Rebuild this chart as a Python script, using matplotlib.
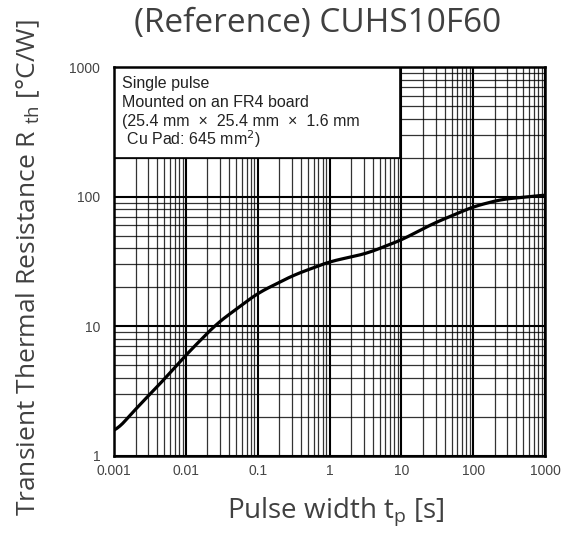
import numpy as np
import matplotlib.pyplot as plt
from matplotlib.patches import Rectangle
from matplotlib.ticker import FixedLocator, NullFormatter

# curve (pulse width [s], Rth [°C/W])
pulse_width = [0.001, 0.002, 0.005, 0.01, 0.027, 0.1, 0.316, 1, 3.3, 10, 27.7, 100, 240, 1000]
rth = [1.5, 2.3, 3.9, 6.0, 10.5, 18, 24.8, 31.5, 36.5, 46.3, 62, 83.6, 95, 103]

x_ticks = [0.001, 0.01, 0.1, 1, 10, 100, 1000]
x_tick_labels = ['0.001', '0.01', '0.1', '1', '10', '100', '1000']
y_ticks = [1, 10, 100, 1000]
y_tick_labels = ['1', '10', '100', '1000']

note_lines = ['Single pulse',
              'Mounted on an FR4 board',
              '(25.4 mm  \u00d7  25.4 mm  \u00d7  1.6 mm',
              ' Cu Pad: 645 mm$^2$)']

fig = plt.figure(figsize=(5.65, 5.36), dpi=100)
ax = fig.add_axes([0.2018, 0.1493, 0.7628, 0.7257])

# smooth curve through the read points in log-log space
lx = np.log10(pulse_width)
ly = np.log10(rth)
xs = np.linspace(lx[0], lx[-1], 300)
ys = np.interp(xs, lx, ly)
k = np.ones(15) / 15
ys_s = np.convolve(np.pad(ys, 7, mode='edge'), k, mode='valid')
ax.plot(10 ** xs, 10 ** ys_s, color='black', lw=2.3, zorder=3)

ax.set_xscale('log')
ax.set_yscale('log')
ax.set_xlim(0.001, 1000)
ax.set_ylim(1, 1000)

ax.xaxis.set_major_locator(FixedLocator(x_ticks))
ax.set_xticklabels(x_tick_labels)
ax.yaxis.set_major_locator(FixedLocator(y_ticks))
ax.set_yticklabels(y_tick_labels)
minor_x = [m * 10.0 ** e for e in range(-3, 3) for m in range(2, 10)]
minor_y = [m * 10.0 ** e for e in range(0, 3) for m in range(2, 10)]
ax.xaxis.set_minor_locator(FixedLocator(minor_x))
ax.yaxis.set_minor_locator(FixedLocator(minor_y))
ax.xaxis.set_minor_formatter(NullFormatter())
ax.yaxis.set_minor_formatter(NullFormatter())

ax.grid(which='major', color='black', lw=1.5)
ax.grid(which='minor', color='black', lw=0.9, alpha=0.8)
ax.tick_params(which='both', length=0)
ax.tick_params(axis='x', pad=6)
ax.tick_params(axis='y', pad=10)
for lab in ax.get_xticklabels() + ax.get_yticklabels():
    lab.set_fontfamily('Liberation Sans')
    lab.set_fontsize(10)
    lab.set_color('#444444')
for s in ax.spines.values():
    s.set_linewidth(1.8)
    s.set_zorder(5)

# note box in the upper left corner, one text per line for even spacing
ax.add_patch(Rectangle((0.0, 0.766), 0.664, 0.234, transform=ax.transAxes,
                       fc='white', ec='black', lw=1.2, zorder=4))
for i, line in enumerate(note_lines):
    ax.text(0.019, 0.946 - i * 0.049, line, transform=ax.transAxes,
            ha='left', va='baseline', fontsize=11.5, family='Liberation Sans',
            color='#222222', zorder=6)

fig.text(0.562, 0.957, '(Reference) CUHS10F60', fontsize=24, family='Open Sans',
         color='#404040', ha='center', va='center')
fig.text(0.595, 0.045, 'Pulse width t$_\\mathregular{p}$ [s]', fontsize=20,
         family='Open Sans', color='#404040', ha='center', va='center')
fig.text(0.05, 0.5, 'Transient Thermal Resistance R $_\\mathregular{th}$ [\u00b0C/W]',
         fontsize=19, family='Open Sans', color='#404040', ha='center', va='center',
         rotation=90)

fig.savefig('out.png', dpi=100)
